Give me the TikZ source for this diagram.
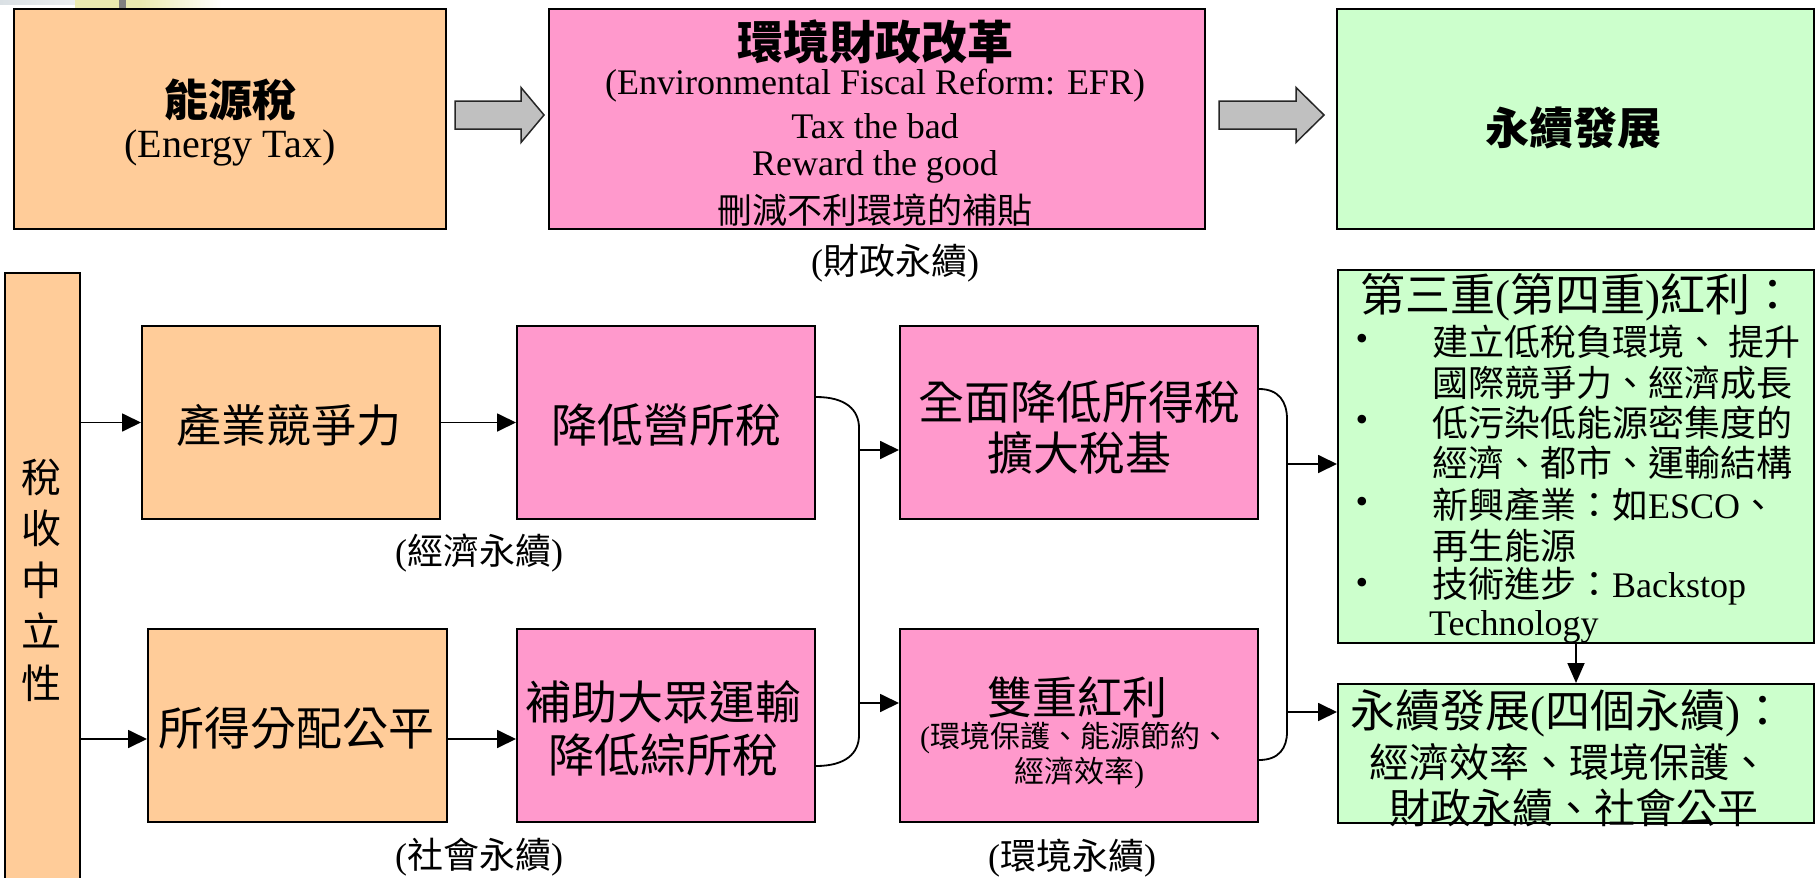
\documentclass[tikz,border=0pt]{standalone}
\usepackage{fontspec}
\setmainfont{Liberation Serif}
\newfontfamily\cjkfont{Noto Sans CJK TC}
\newcommand{\zh}[1]{{\cjkfont #1}}
\newcommand{\zhb}[1]{{\cjkfont\bfseries #1}}
\newcommand{\fsz}[1]{\fontsize{#1}{#1}\selectfont}
\usetikzlibrary{arrows.meta}
\definecolor{peach}{RGB}{255,204,153}
\definecolor{pinkbox}{RGB}{255,153,204}
\definecolor{greenbox}{RGB}{204,255,204}
\definecolor{arrowgray}{RGB}{192,192,192}
\definecolor{decoyellow}{RGB}{234,234,176}
\definecolor{decoblue}{RGB}{218,224,228}
\begin{document}
\begin{tikzpicture}[x=1pt,y=-1pt,
  box/.style={draw=black, line width=2pt, inner sep=0pt},
  conn/.style={draw=black, line width=1.8pt},
  arr/.style={conn, -{Triangle[length=19pt,width=18pt]}},
  garrow/.style={draw=black!85, line width=1.5pt, fill=arrowgray, line join=miter},
  txt/.style={inner sep=0pt, align=center},
  ltxt/.style={inner sep=0pt, anchor=west}]
\useasboundingbox (0,0) rectangle (1816,878);
\clip (0,0) rectangle (1816,878);

% slide background remnants (top left)
\shade[left color=decoblue, right color=decoblue!40] (0,0) rectangle (105,4);
\fill[decoyellow] (75,0) rectangle (140,8);
\shade[left color=decoyellow, right color=white] (140,0) rectangle (222,8);
\fill[black!50] (119,0) rectangle (126,9);

% ---------- top row ----------
\node[box, fill=peach, minimum width=432pt, minimum height=220pt] (energy) at (230,119) {};
\node[txt, font=\fsz{44}] (energyt1) at (230,100) {\zhb{能源稅}};
\node[txt, font=\fsz{40}] (energyt2) at (230,148) {(Energy Tax)};

\node[box, fill=pinkbox, minimum width=656pt, minimum height=220pt] (efr) at (877,119) {};
\node[txt, font=\fsz{46}] (efrt1) at (875,42) {\zhb{環境財政改革}};
\node[txt, font=\fsz{36}] (efrt2) at (875,86) {(Environmental Fiscal Reform: EFR)};
\node[txt, font=\fsz{36}] (efrt3) at (875,126) {Tax the bad};
\node[txt, font=\fsz{36}] (efrt4) at (875,167) {Reward the good};
\node[txt, font=\fsz{35}] (efrt5) at (875,210) {\zh{刪減不利環境的補貼}};
\node[txt, font=\fsz{36}] (fiscal) at (895,263) {(\zh{財政永續})};

\node[box, fill=greenbox, minimum width=477pt, minimum height=220pt] (sd) at (1575.5,119) {};
\node[txt, font=\fsz{44}] (sdt) at (1573,128) {\zhb{永續發展}};

\draw[garrow] ([xshift=8pt,yshift=4pt]energy.east) -- ++(0,-14) -- ++(66,0) -- ++(0,-13.5)
  -- ++(23,27.5) -- ++(-23,27.5) -- ++(0,-13.5) -- ++(-66,0) -- cycle;
\draw[garrow] ([xshift=13pt,yshift=4pt]efr.east) -- ++(0,-14) -- ++(77,0) -- ++(0,-13.5)
  -- ++(28,27.5) -- ++(-28,27.5) -- ++(0,-13.5) -- ++(-77,0) -- cycle;

% ---------- lower part ----------
\node[box, fill=peach, minimum width=75pt, minimum height=640pt] (tall) at (42.5,593) {};
\node[txt, font={\cjkfont\fontsize{40}{51.5}\selectfont}] (tallt) at (41,580) {稅\\收\\中\\立\\性};

\node[box, fill=peach, minimum width=298pt, minimum height=193pt] (prod) at (291,422.5) {};
\node[txt, font=\fsz{45}] (prodt) at (289,425) {\zh{產業競爭力}};

\node[box, fill=pinkbox, minimum width=298pt, minimum height=193pt] (cut) at (666,422.5) {};
\node[txt, font=\fsz{46}] (cutt) at (666,425) {\zh{降低營所稅}};
\node[txt, font=\fsz{36}] (econ) at (479,553) {(\zh{經濟永續})};

\node[box, fill=peach, minimum width=299pt, minimum height=193pt] (inc) at (297.5,725.5) {};
\node[txt, font=\fsz{46}] (inct) at (296,728) {\zh{所得分配公平}};

\node[box, fill=pinkbox, minimum width=298pt, minimum height=193pt] (sub) at (666,725.5) {};
\node[txt, font=\fsz{46}] (subt1) at (663,702) {\zh{補助大眾運輸}};
\node[txt, font=\fsz{46}] (subt2) at (663,755) {\zh{降低綜所稅}};
\node[txt, font=\fsz{36}] (social) at (479,857) {(\zh{社會永續})};

\node[box, fill=pinkbox, minimum width=358pt, minimum height=193pt] (broad) at (1079,422.5) {};
\node[txt, font=\fsz{46}] (broadt1) at (1079,402) {\zh{全面降低所得稅}};
\node[txt, font=\fsz{46}] (broadt2) at (1079,453) {\zh{擴大稅基}};

\node[box, fill=pinkbox, minimum width=358pt, minimum height=193pt] (dbl) at (1079,725.5) {};
\node[txt, font=\fsz{45}] (dblt1) at (1077,697) {\zh{雙重紅利}};
\node[txt, font=\fsz{30}] (dblt2) at (1075,738) {(\zh{環境保護、能源節約、}};
\node[txt, font=\fsz{30}] (dblt3) at (1079,773) {\zh{經濟效率})};
\node[txt, font=\fsz{36}] (envir) at (1072,858) {(\zh{環境永續})};

\node[box, fill=greenbox, minimum width=476pt, minimum height=373pt] (g1) at (1576,456.5) {};
\node[txt, font=\fsz{45}] (g1t) at (1578,297) {\zh{第三重}(\zh{第四重})\zh{紅利：}};
\node[txt, font=\fsz{36}] (b1) at (1362,342) {•};
\node[txt, font=\fsz{36}] (b2) at (1362,423) {•};
\node[txt, font=\fsz{36}] (b3) at (1362,505) {•};
\node[txt, font=\fsz{36}] (b4) at (1362,586) {•};
\node[ltxt, font=\fsz{36}] (l1) at (1432,342) {\zh{建立低稅負環境、 提升}};
\node[ltxt, font=\fsz{36}] (l2) at (1432,383) {\zh{國際競爭力、經濟成長}};
\node[ltxt, font=\fsz{36}] (l3) at (1432,423) {\zh{低污染低能源密集度的}};
\node[ltxt, font=\fsz{36}] (l4) at (1432,463) {\zh{經濟、都市、運輸結構}};
\node[ltxt, font=\fsz{36}] (l5) at (1432,505) {\zh{新興產業：如}ESCO\zh{、}};
\node[ltxt, font=\fsz{36}] (l6) at (1432,546) {\zh{再生能源}};
\node[ltxt, font=\fsz{36}] (l7) at (1432,586) {\zh{技術進步：}Backstop};
\node[ltxt, font=\fsz{36}] (l8) at (1429,627) {Technology};

\node[box, fill=greenbox, minimum width=476pt, minimum height=139pt] (g2) at (1576,753.5) {};
\node[txt, font=\fsz{45}] (g2t1) at (1568,713) {\zh{永續發展}(\zh{四個永續})\zh{：}};
\node[txt, font=\fsz{40}] (g2t2) at (1569,762) {\zh{經濟效率、環境保護、}};
\node[txt, font=\fsz{41}] (g2t3) at (1574,808) {\zh{財政永續、社會公平}};

% ---------- connectors ----------
\coordinate (incin) at ([yshift=-13.5pt]inc.west);
\coordinate (subin) at ([yshift=-13.5pt]sub.west);
\draw[arr] (tall.east |- prod.west) -- (prod.west);
\draw[arr] (tall.east |- incin) -- (incin);
\draw[arr] (prod.east) -- (cut.west);
\draw[arr] (inc.east |- subin) -- (subin);

% left bracket
\coordinate (lb1) at ([yshift=25.5pt]cut.east);
\coordinate (lb2) at ([yshift=-40.5pt]sub.east);
\coordinate (lv1) at ([xshift=43pt,yshift=-31pt]lb1);
\coordinate (lv2) at ([xshift=43pt,yshift=31pt]lb2);
\coordinate (broadin) at ([yshift=-27.5pt]broad.west);
\coordinate (dblin) at ([yshift=22.5pt]dbl.west);
\draw[conn] (lb1) .. controls +(30,0) and +(0,-18) .. (lv1) -- (lv2)
  .. controls +(0,18) and +(30,0) .. (lb2);
\draw[arr] (lv1 |- broadin) -- (broadin);
\draw[arr] (lv1 |- dblin) -- (dblin);

% right bracket
\coordinate (rb1) at ([yshift=33.5pt]broad.east);
\coordinate (rb2) at ([yshift=-34.5pt]dbl.east);
\coordinate (rv1) at ([xshift=28pt,yshift=-30pt]rb1);
\coordinate (rv2) at ([xshift=28pt,yshift=28pt]rb2);
\coordinate (g1in) at ([yshift=-7.5pt]g1.west);
\coordinate (g2in) at ([yshift=41.5pt]g2.west);
\draw[conn] (rb1) .. controls +(20,0) and +(0,-17) .. (rv1) -- (rv2)
  .. controls +(0,16) and +(20,0) .. (rb2);
\draw[arr] (rv1 |- g1in) -- (g1in);
\draw[arr] (rv1 |- g2in) -- (g2in);

\draw[conn, -{Triangle[length=20pt,width=17pt]}] (g1.south) -- (g2.north);
\end{tikzpicture}
\end{document}
